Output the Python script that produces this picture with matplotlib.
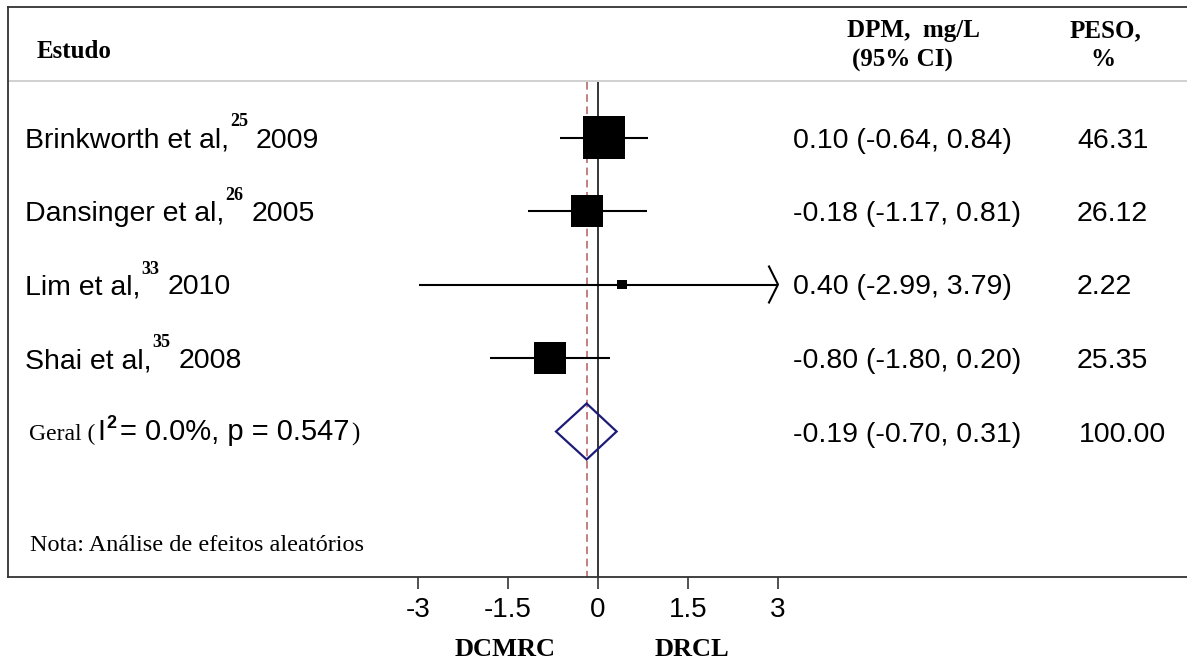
import numpy as np
import matplotlib.pyplot as plt
from matplotlib.patches import Polygon

# Study data
studies = ["Brinkworth et al,", "Dansinger et al,", "Lim et al,", "Shai et al,"]
refs = ["25", "26", "33", "35"]
years = ["2009", "2005", "2010", "2008"]
est = [0.10, -0.18, 0.40, -0.80]
ci_lo = [-0.64, -1.17, -2.99, -1.80]
ci_hi = [0.84, 0.81, 3.79, 0.20]
weights = [46.31, 26.12, 2.22, 25.35]

# Pooled (random effects)
overall_est, overall_lo, overall_hi = -0.19, -0.70, 0.31
overall_weight = 100.00
i2, p_het = 0.0, 0.547

ticks = [-3, -1.5, 0, 1.5, 3]
tick_labels = ["-3", "-1.5", "0", "1.5", "3"]

SANS = "Liberation Sans"
SERIF = "Liberation Serif"

# Layout in pixels
W, H = 1187, 664
ZERO, PPU = 598, 60          # pixel of x=0, pixels per unit
BOX_L, BOX_T, BOX_B = 8, 7, 577


def X(px):
    return (px - ZERO) / PPU


fig = plt.figure(figsize=(W / 100, H / 100), dpi=100)
ax = fig.add_axes([BOX_L / W, 1 - BOX_B / H, 1 - BOX_L / W, (BOX_B - BOX_T) / H])
ax.set_xlim(X(BOX_L), X(W))
ax.set_ylim(BOX_B, BOX_T)   # y in pixels from top

for side in ["left", "top", "bottom"]:
    ax.spines[side].set_color("#333333")
    ax.spines[side].set_linewidth(1.3)
ax.spines["right"].set_visible(False)

ax.set_yticks([])
ax.set_xticks(ticks, labels=tick_labels)
ax.tick_params(axis="x", length=8.6, width=1.1, pad=6, labelsize=20, color="#222222")
for lab in ax.get_xticklabels():
    lab.set_family(SANS)

rows = 137.5 + 73.5 * np.arange(len(studies) + 1)

# header separator and reference lines
ax.axhline(81, color="#c8c8c8", lw=1.2)
ax.vlines(0, 82, BOX_B, color="black", lw=1.1)
ax.vlines(overall_est, 82, BOX_B, color="#b35c5c", lw=1.1, ls=(0, (5, 3)))

# confidence intervals
for i in range(len(studies)):
    lo = max(ci_lo[i], ticks[0])
    hi = min(ci_hi[i], ticks[-1])
    ax.hlines(rows[i], lo, hi, color="black", lw=1.5)
    if ci_hi[i] > ticks[-1]:
        ax.plot([hi - 0.15, hi, hi - 0.15], [rows[i] - 18, rows[i], rows[i] + 18],
                color="black", lw=1.5)

# weighted squares
sides = 6.3 * np.sqrt(weights) * 0.72
ax.scatter(est, rows[:len(studies)], marker="s", s=sides ** 2, color="black",
           linewidths=0, zorder=3)

# pooled diamond
yd = rows[-1]
ax.add_patch(Polygon([(overall_lo, yd), (overall_est, yd - 28), (overall_hi, yd),
                      (overall_est, yd + 28)], closed=True, fill=False,
                     edgecolor="#1c1c78", lw=1.6, zorder=3))

renderer = fig.canvas.get_renderer()


def right_edge(txt):
    bb = txt.get_window_extent(renderer=renderer)
    return ax.transData.inverted().transform((bb.x1, bb.y0))[0]


# headers
hdr = dict(family=SERIF, weight="bold", fontsize=18)
ax.text(X(37), 58, "Estudo", va="baseline", **hdr)
ax.text(X(913), 31, "DPM,  mg/L", ha="center", va="center", **hdr)
ax.text(X(902), 60, "(95% CI)", ha="center", va="center", **hdr)
ax.text(X(1105), 31, "PESO,", ha="center", va="center", **hdr)
ax.text(X(1103), 60, "%", ha="center", va="center", **hdr)

# study labels with superscript references
FS = 20.5
for i in range(len(studies)):
    base = rows[i] + 10
    t = ax.text(X(25), base, studies[i], family=SANS, fontsize=FS, va="baseline")
    s = ax.text(right_edge(t) + 1 / PPU, base - 21, refs[i], family=SERIF,
                weight="bold", fontsize=13, va="baseline")
    ax.text(right_edge(s) + 8 / PPU, base, years[i], family=SANS, fontsize=FS,
            va="baseline")
    ax.text(X(793), base, f"{est[i]:.2f} ({ci_lo[i]:.2f}, {ci_hi[i]:.2f})",
            family=SANS, fontsize=FS, va="baseline")
    ax.text(X(1077), base, f"{weights[i]:.2f}", family=SANS, fontsize=FS,
            va="baseline")

# pooled row
base = rows[-1] + 9
g = ax.text(X(29), base, "Geral (", family=SERIF, fontsize=17, va="baseline")
g = ax.text(right_edge(g) + 2 / PPU, base, "I", family=SANS, fontsize=21, va="baseline")
g = ax.text(right_edge(g) + 1 / PPU, base - 13, "2", family=SANS, weight="bold",
            fontsize=13, va="baseline")
g = ax.text(right_edge(g) + 4 / PPU, base, f"= {i2:.1f}%, p = {p_het:.3f}",
            family=SANS, fontsize=21, va="baseline")
ax.text(right_edge(g) + 1 / PPU, base, ")", family=SERIF, fontsize=18, va="baseline")
ax.text(X(793), base + 1, f"{overall_est:.2f} ({overall_lo:.2f}, {overall_hi:.2f})",
        family=SANS, fontsize=FS, va="baseline")
ax.text(X(1079), base + 1, f"{overall_weight:.2f}", family=SANS, fontsize=FS,
        va="baseline")

ax.text(X(30), 551, "Nota: Análise de efeitos aleatórios", family=SERIF,
        fontsize=17.5, va="baseline")

# direction labels under the axis
ax.text(X(505), 650, "DCMRC", family=SERIF, weight="bold", fontsize=19,
        ha="center", va="center")
ax.text(X(692), 650, "DRCL", family=SERIF, weight="bold", fontsize=19,
        ha="center", va="center")

fig.savefig("out.png", dpi=100)
